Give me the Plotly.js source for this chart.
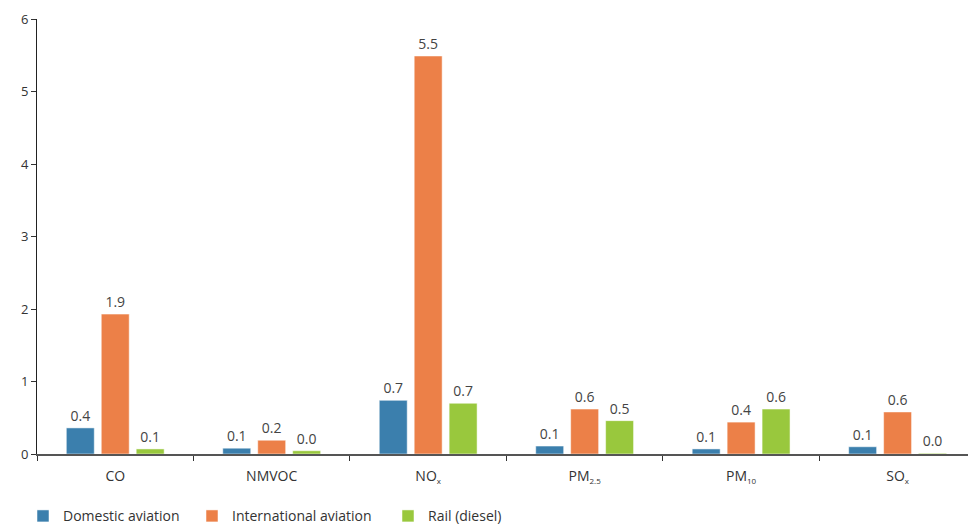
<!DOCTYPE html>
<html>
<head>
<meta charset="utf-8">
<script src="https://cdn.plot.ly/plotly-3.0.1.min.js"></script>
<style>
  html, body { margin: 0; padding: 0; background: #fff; }
  #chart { width: 968px; height: 525px; }
</style>
</head>
<body>
<div id="chart"></div>
<script>
// Pollutant categories (chemical notation with small subscripts)
const SUB = s => '<sub><span style="font-size:8px">' + s + '</span></sub>';
const pollutants = ['CO', 'NMVOC', 'NO' + SUB('x'), 'PM' + SUB('2.5'), 'PM' + SUB('10'), 'SO' + SUB('x')];

// Emissions per mode of transport
const domesticAviation = [0.36, 0.08, 0.74, 0.11, 0.07, 0.10];
const internationalAviation = [1.93, 0.19, 5.49, 0.62, 0.44, 0.58];
const railDiesel = [0.07, 0.045, 0.70, 0.46, 0.62, 0.01];

const seriesNames = ['Domestic aviation', 'International aviation', 'Rail (diesel)'];
const seriesColors = ['#3b7fad', '#ec8048', '#99c83d'];
const yTicks = [0, 1, 2, 3, 4, 5, 6];

const FONT = 'Open Sans, Noto Sans, sans-serif';

// each series gets its own legend box so the entries can be spaced freely
const legendIds = ['legend', 'legend2', 'legend3'];
const legendLeft = [23, 192, 388];

const seriesValues = [domesticAviation, internationalAviation, railDiesel];
const traces = seriesValues.map((vals, i) => ({
  type: 'bar',
  name: seriesNames[i],
  legend: legendIds[i],
  x: pollutants,
  y: vals,
  marker: { color: seriesColors[i], line: { color: 'rgba(255,255,255,0.5)', width: 1 } },
  texttemplate: '%{y:.1f}',
  textposition: 'outside',
  cliponaxis: false,
  constraintext: 'none',
  outsidetextfont: { family: FONT, size: 14, color: '#444' },
  hoverinfo: 'x+y+name'
}));

const layout = {
  width: 968,
  height: 525,
  margin: { l: 37, r: 0, t: 19, b: 71 },
  paper_bgcolor: '#fff',
  plot_bgcolor: '#fff',
  font: { family: FONT, size: 13, color: '#333' },
  barmode: 'group',
  bargap: 0.33,
  bargroupgap: 0.2,
  showlegend: true,
  xaxis: {
    type: 'category',
    range: [-0.5, 5.45],
    showline: true,
    linecolor: '#555',
    linewidth: 1.5,
    ticks: 'outside',
    tickson: 'boundaries',
    ticklen: 5,
    tickcolor: '#333',
    ticklabelstandoff: 9,
    showgrid: false,
    zeroline: false,
    tickfont: { family: FONT, size: 14, color: '#333' },
    fixedrange: true
  },
  yaxis: {
    range: [0, 6],
    tickvals: yTicks,
    showline: true,
    linecolor: '#222',
    linewidth: 1,
    ticks: 'outside',
    ticklen: 5,
    tickcolor: '#333',
    showgrid: false,
    zeroline: false,
    tickfont: { family: FONT, size: 13, color: '#333' },
    fixedrange: true
  }
};

legendIds.forEach((id, i) => {
  layout[id] = {
    orientation: 'h',
    xref: 'container',
    x: legendLeft[i] / 968,
    xanchor: 'left',
    yref: 'container',
    y: 0.047,
    yanchor: 'top',
    bgcolor: 'rgba(0,0,0,0)',
    font: { family: FONT, size: 14, color: '#333' },
    itemwidth: 30
  };
});

Plotly.newPlot('chart', traces, layout, { displayModeBar: false, staticPlot: true });
</script>
</body>
</html>
